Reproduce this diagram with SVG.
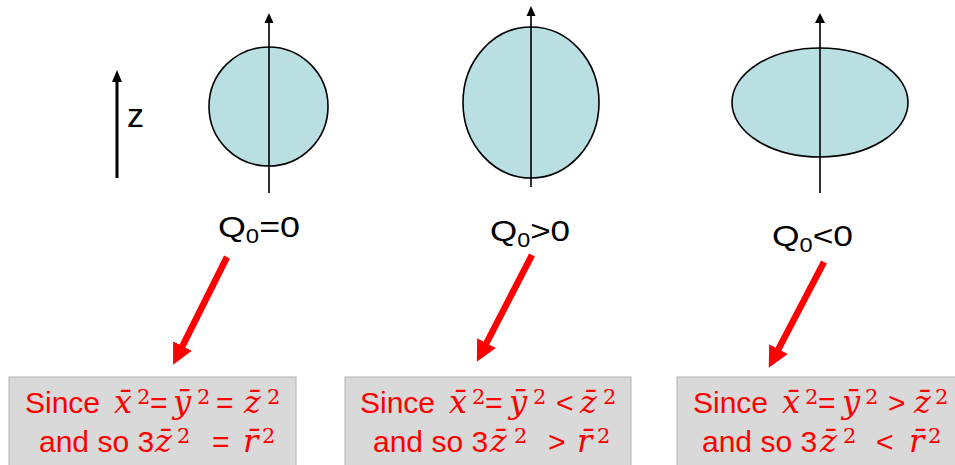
<svg xmlns="http://www.w3.org/2000/svg" width="955" height="465" viewBox="0 0 955 465">
<style>
.shape{fill:#b9dfe3;stroke:#000;stroke-width:1.6}
.axis{stroke:#000;stroke-width:1.6;fill:none}
.head{fill:#000}
.lbl{font-family:"Liberation Sans",Arial,sans-serif;font-size:30px;fill:#000}
.sub{font-size:20px}
.red{stroke:#ff0000;stroke-width:6.5;fill:none}
.box{fill:#d9d9d9;stroke:#bdbdbd;stroke-width:1.2}
.t{font-family:"Liberation Sans",Arial,sans-serif;font-size:30px;fill:#ff0000}
.m{font-family:"DejaVu Serif",serif;font-style:italic;font-size:32px}
.s{font-family:"DejaVu Serif",serif;font-style:normal;font-size:21px}
</style>
<defs>
<marker id="rh" viewBox="0 0 10 10" refX="0.5" refY="5" markerUnits="userSpaceOnUse" markerWidth="21" markerHeight="22" orient="auto">
<path d="M0,0 L10,5 L0,10 z" fill="#ff0000"/>
</marker>
</defs>
<g id="zaxis">
<line class="axis" x1="117" y1="178" x2="117" y2="80" style="stroke-width:3"/>
<polygon class="head" points="117,70 112,82 122,82"/>
<text class="lbl" x="127" y="127" style="font-size:34px">z</text>
</g>
<g id="sphere">
<circle class="shape" cx="268.5" cy="106.5" r="59.5"/>
<line class="axis" x1="269" y1="193" x2="269" y2="21"/>
<polygon class="head" points="269,13 264.5,23 273.5,23"/>
<text class="lbl" x="218" y="237" textLength="82" lengthAdjust="spacingAndGlyphs">Q<tspan class="sub" dy="6">0</tspan><tspan dy="-6">=0</tspan></text>
</g>
<g id="prolate">
<ellipse class="shape" cx="531" cy="102.5" rx="68" ry="75.5"/>
<line class="axis" x1="531" y1="187" x2="531" y2="14"/>
<polygon class="head" points="531,6 526.5,16 535.5,16"/>
<text class="lbl" x="490" y="241" textLength="80" lengthAdjust="spacingAndGlyphs">Q<tspan class="sub" dy="6">0</tspan><tspan dy="-6">&gt;0</tspan></text>
</g>
<g id="oblate">
<ellipse class="shape" cx="820" cy="102.5" rx="88" ry="54.5"/>
<line class="axis" x1="820" y1="193" x2="820" y2="21"/>
<polygon class="head" points="820,13 815,23 825,23"/>
<text class="lbl" x="772" y="246" textLength="81" lengthAdjust="spacingAndGlyphs">Q<tspan class="sub" dy="6">0</tspan><tspan dy="-6">&lt;0</tspan></text>
</g>
<g id="connectors">
<line class="red" x1="227" y1="257" x2="182" y2="347" marker-end="url(#rh)"/>
<line class="red" x1="532" y1="255" x2="486" y2="344" marker-end="url(#rh)"/>
<line class="red" x1="824" y1="262" x2="778" y2="350" marker-end="url(#rh)"/>
</g>
<g id="box1">
<rect class="box" x="9" y="377" width="287" height="95"/>
<text class="t" y="413"><tspan x="25">Since</tspan><tspan class="m" x="114">x&#x0304;</tspan><tspan class="s" x="137" y="404">2</tspan><tspan x="150" y="413">=</tspan><tspan class="m" x="173">y&#x0304;</tspan><tspan class="s" x="197" y="404">2</tspan><tspan x="216" y="413">=</tspan><tspan class="m" x="244">z&#x0304;</tspan><tspan class="s" x="267" y="404">2</tspan></text>
<text class="t" y="452"><tspan x="39">and so 3</tspan><tspan class="m" x="155">z&#x0304;</tspan><tspan class="s" x="177" y="443">2</tspan><tspan x="212" y="452">=</tspan><tspan class="m" x="243">r&#x0304;</tspan><tspan class="s" x="262" y="443">2</tspan></text>
</g>
<g id="box2">
<rect class="box" x="345" y="377" width="286" height="95"/>
<text class="t" y="413"><tspan x="360">Since</tspan><tspan class="m" x="449">x&#x0304;</tspan><tspan class="s" x="472" y="404">2</tspan><tspan x="485" y="413">=</tspan><tspan class="m" x="509">y&#x0304;</tspan><tspan class="s" x="533" y="404">2</tspan><tspan x="556" y="413">&lt;</tspan><tspan class="m" x="580">z&#x0304;</tspan><tspan class="s" x="603" y="404">2</tspan></text>
<text class="t" y="452"><tspan x="373">and so 3</tspan><tspan class="m" x="490">z&#x0304;</tspan><tspan class="s" x="514" y="443">2</tspan><tspan x="548" y="452">&gt;</tspan><tspan class="m" x="577">r&#x0304;</tspan><tspan class="s" x="597" y="443">2</tspan></text>
</g>
<g id="box3">
<rect class="box" x="677" y="377" width="290" height="95"/>
<text class="t" y="413"><tspan x="693">Since</tspan><tspan class="m" x="782">x&#x0304;</tspan><tspan class="s" x="805" y="404">2</tspan><tspan x="818" y="413">=</tspan><tspan class="m" x="842">y&#x0304;</tspan><tspan class="s" x="865" y="404">2</tspan><tspan x="888" y="413">&gt;</tspan><tspan class="m" x="914">z&#x0304;</tspan><tspan class="s" x="935" y="404">2</tspan></text>
<text class="t" y="452"><tspan x="702">and so 3</tspan><tspan class="m" x="820">z&#x0304;</tspan><tspan class="s" x="843" y="443">2</tspan><tspan x="876" y="452">&lt;</tspan><tspan class="m" x="909">r&#x0304;</tspan><tspan class="s" x="928" y="443">2</tspan></text>
</g>
</svg>
